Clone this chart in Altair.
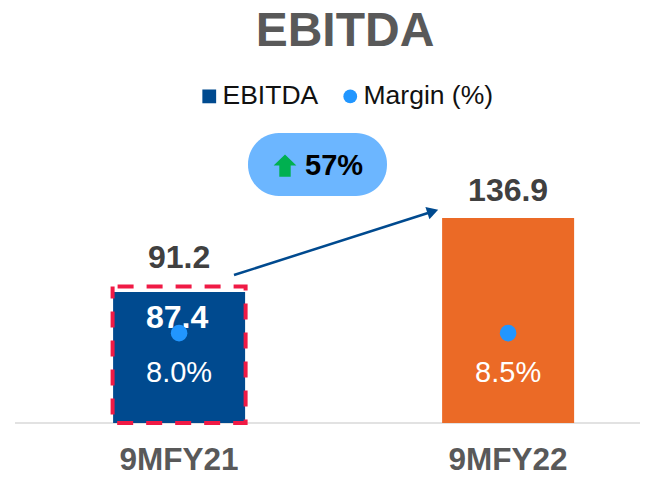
import altair as alt
import pandas as pd

FONT = "Liberation Sans"
categories = ["9MFY21", "9MFY22"]
ebitda = [87.4, 136.9]
margin = [8.0, 8.5]
margin_labels = ["8.0%", "8.5%"]
bar_series = ["EBITDA", "FY22 EBITDA"]
marker_level = [60, 60]
restated_category = ["9MFY21"]
restated_value = [91.2]
growth_label = ["57%"]

SERIES = ["EBITDA", "Margin (%)", "FY22 EBITDA"]
color_scale = alt.Scale(domain=SERIES, range=["#004A8F", "#2196FF", "#EB6A26"])
shape_scale = alt.Scale(domain=SERIES, range=["square", "circle", "square"])
x_scale = alt.Scale(domain=categories, paddingInner=0.6, paddingOuter=0.2726, align=0.587)
y_scale = alt.Scale(domain=[0, 237.06], nice=False, zero=True)

bars_df = pd.DataFrame({"cat": categories, "val": ebitda, "series": bar_series})
pts_df = pd.DataFrame({"cat": categories, "level": marker_level, "margin": margin,
                       "label": margin_labels, "series": ["Margin (%)"] * 2})
rest_df = pd.DataFrame({"cat": restated_category, "val": restated_value})

X = alt.X("cat:N", scale=x_scale, sort=categories, title=None,
          axis=alt.Axis(domain=False, ticks=False, labelAngle=0, labelPadding=21,
                        labelFontSize=31.5, labelFontWeight="bold", labelColor="#595959",
                        labelFont=FONT, grid=False))
Y = alt.Y("val:Q", scale=y_scale, axis=None)
legend = alt.Legend(values=["EBITDA", "Margin (%)"], orient="none", legendX=188, legendY=15,
                    direction="horizontal", title=None, symbolSize=190, labelFontSize=26.5,
                    labelFont=FONT, labelColor="#111111", labelOffset=0, columnPadding=18,
                    symbolStrokeWidth=0, symbolOpacity=1)
COLOR = alt.Color("series:N", scale=color_scale, legend=legend)
SHAPE = alt.Shape("series:N", scale=shape_scale, legend=legend)

bars = alt.Chart(bars_df).mark_bar(width=132).encode(x=X, y=Y, color=COLOR)

dashed = alt.Chart(rest_df).mark_bar(width=133, fill=None, filled=False, stroke="#F01A45",
                                     strokeWidth=4, strokeDash=[16, 13], strokeDashOffset=24).encode(x=X, y=Y)

baseline = alt.Chart(pd.DataFrame({"z": [0]})).mark_rule(color="#D9D9D9", strokeWidth=1.5).encode(
    x=alt.value(7), x2=alt.value(632), y=alt.Y("z:Q", scale=y_scale, axis=None))

top_labels = alt.Chart(pd.DataFrame({"cat": categories[1:], "val": ebitda[1:]})).mark_text(
    font=FONT, fontSize=32, fontWeight="bold", color="#404040", dy=-27).encode(
    x=X, y=Y, text=alt.Text("val:Q", format=".1f"))
rest_label = alt.Chart(rest_df).mark_text(
    font=FONT, fontSize=32, fontWeight="bold", color="#404040", dy=-28).encode(
    x=X, y=Y, text=alt.Text("val:Q", format=".1f"))
in_label = alt.Chart(bars_df.iloc[:1]).mark_text(
    font=FONT, fontSize=32, fontWeight="bold", color="white", dy=26, dx=-2).encode(
    x=X, y=Y, text=alt.Text("val:Q", format=".1f"))

Y_LEVEL = alt.Y("level:Q", scale=y_scale, axis=None)
points = alt.Chart(pts_df).mark_point(filled=True, size=275, opacity=1, strokeWidth=0).encode(
    x=X, y=Y_LEVEL, color=COLOR, shape=SHAPE)
pt_labels = alt.Chart(pts_df).mark_text(font=FONT, fontSize=29, color="white", dy=40).encode(
    x=X, y=Y_LEVEL, text="label:N")

one = pd.DataFrame({"a": [0]})
pill = alt.Chart(one).mark_rect(color="#6CB6FF", cornerRadius=31).encode(
    x=alt.value(240), x2=alt.value(379), y=alt.value(65), y2=alt.value(128))
up_arrow = alt.Chart(one).mark_point(
    filled=True, opacity=1, strokeWidth=0, color="#00B050", size=520,
    shape="M0,-1 L1,-0.05 L0.5,-0.05 L0.5,0.95 L-0.5,0.95 L-0.5,-0.05 L-1,-0.05 Z").encode(
    x=alt.value(277), y=alt.value(98))
pill_text = alt.Chart(pd.DataFrame({"t": growth_label})).mark_text(
    font=FONT, fontSize=29, fontWeight="bold", color="black", align="left").encode(
    x=alt.value(297), y=alt.value(98), text="t:N")
arrow_line = alt.Chart(one).mark_rule(color="#004A8F", strokeWidth=2.5).encode(
    x=alt.value(226), x2=alt.value(420), y=alt.value(207), y2=alt.value(145))
arrow_head = alt.Chart(one).mark_point(
    filled=True, opacity=1, strokeWidth=0, color="#004A8F", size=170, shape="triangle", angle=72).encode(
    x=alt.value(423), y=alt.value(144))

chart = alt.layer(
    baseline, bars, dashed, rest_label, top_labels, in_label, points, pt_labels,
    pill, up_arrow, pill_text, arrow_line, arrow_head,
).resolve_scale(x="shared", y="shared").properties(
    width=640, height=355,
    title=alt.TitleParams("EBITDA", font=FONT, fontSize=48, fontWeight="bold", color="#595959",
                          anchor="middle", dx=17, offset=12),
    autosize=alt.AutoSizeParams(type="pad"),
    padding=0,
).configure_view(stroke=None)

chart.save("out.html", embed_options={"renderer": "svg", "actions": False})
